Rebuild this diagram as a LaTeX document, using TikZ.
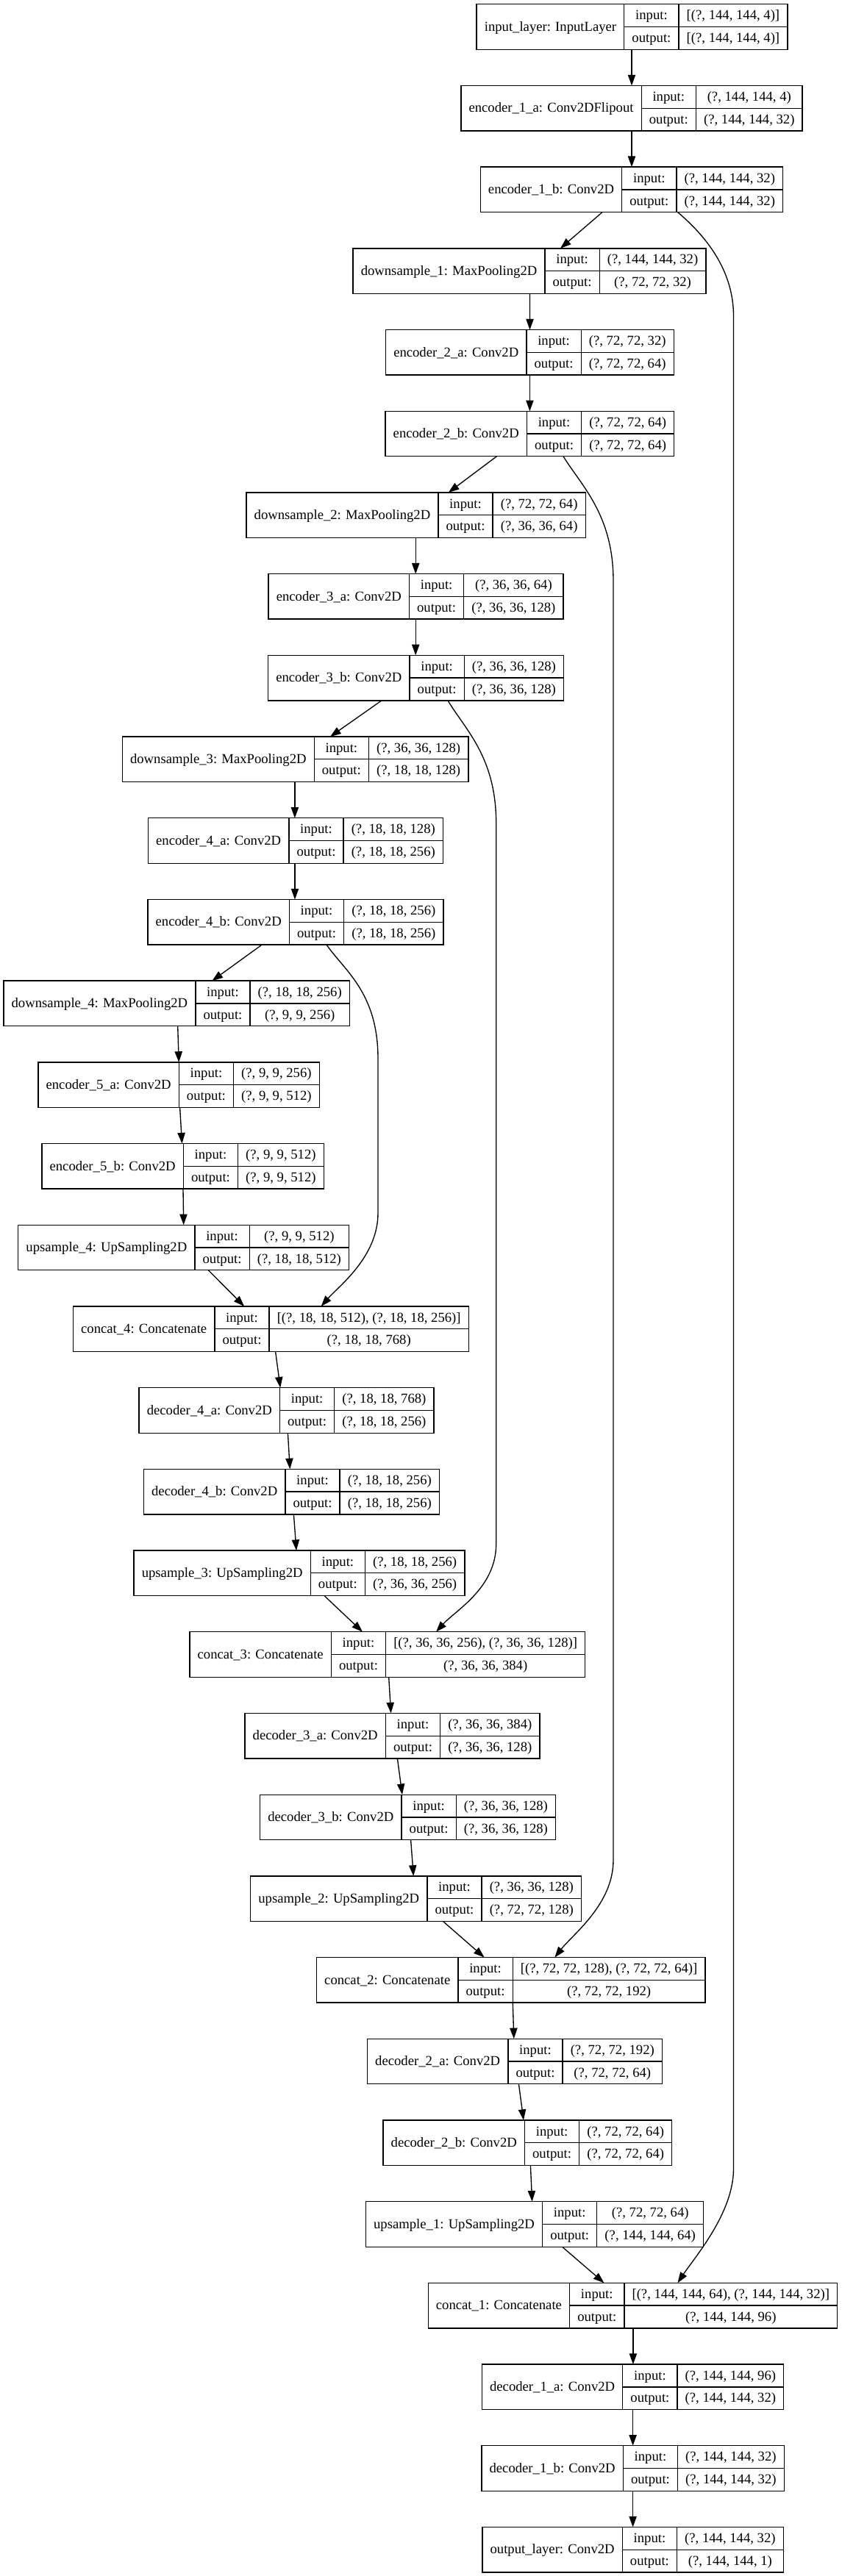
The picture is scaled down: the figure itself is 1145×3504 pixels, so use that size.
\documentclass[tikz,border=0pt]{standalone}
\usepackage{fontspec}
\setmainfont{Liberation Serif}
\usetikzlibrary{arrows.meta,calc}
\newlength\wA \newlength\wB \newlength\wC \newlength\wD \newlength\wT
\newcommand\lfont{\fontsize{14pt}{16.8pt}\selectfont}
\newcommand\measure[2]{\setbox0\hbox{\pgfinterruptpicture\lfont #2\endpgfinterruptpicture}\setlength#1{\wd0}}
\tikzset{
  box/.style={draw, line width=1pt, inner sep=0pt, outer sep=0pt, minimum height=46.125pt},
  rule/.style={line width=1pt},
  txt/.style={inner sep=0pt, font=\lfont, text height=10pt, text depth=1.4pt},
  edge/.style={line width=1pt, -{Triangle[length=11pt,width=7.7pt]}},
}
\newcommand\layer[6]{%
  \measure\wA{#4}\addtolength\wA{16pt}%
  \measure\wB{output:}\addtolength\wB{16pt}%
  \measure\wC{#5}\measure\wD{#6}%
  \ifdim\wD>\wC \setlength\wC{\wD}\fi
  \addtolength\wC{16pt}%
  \setlength\wT{\wA}\addtolength\wT{\wB}\addtolength\wT{\wC}%
  \node[box, minimum width=\wT] (#1) at (#2,{36.5+(#3-1)*110.7}) {};
  \draw[rule] ([xshift=\wA]#1.north west) -- ([xshift=\wA]#1.south west);
  \draw[rule] ([xshift=\wA+\wB]#1.north west) -- ([xshift=\wA+\wB]#1.south west);
  \draw[rule] ([xshift=\wA]#1.west) -- (#1.east);
  \node[txt] (#1-l) at ([xshift=0.5*\wA]#1.west) {#4};
  \node[txt] (#1-i) at ([xshift=\wA+0.5*\wB, yshift=11.53pt]#1.west) {input:};
  \node[txt] (#1-o) at ([xshift=\wA+0.5*\wB, yshift=-11.53pt]#1.west) {output:};
  \node[txt] (#1-vi) at ([xshift=\wA+\wB+0.5*\wC, yshift=11.53pt]#1.west) {#5};
  \node[txt] (#1-vo) at ([xshift=\wA+\wB+0.5*\wC, yshift=-11.53pt]#1.west) {#6};
}
\newcommand\conn[4]{\draw[edge] ($(#1.south)+(#2,0)$) -- ($(#3.north)+(#4,0)$);}
\begin{document}
\begin{tikzpicture}[x=0.75pt, y=-0.75pt]
\fill[white] (0,0) rectangle (1145,3504);
\useasboundingbox (0,0) rectangle (1145,3504);

\layer{inl}{859.5}{1}{input\_layer: InputLayer}{[(?, 144, 144, 4)]}{[(?, 144, 144, 4)]}
\layer{e1a}{859}{2}{encoder\_1\_a: Conv2DFlipout}{(?, 144, 144, 4)}{(?, 144, 144, 32)}
\layer{e1b}{859}{3}{encoder\_1\_b: Conv2D}{(?, 144, 144, 32)}{(?, 144, 144, 32)}
\layer{ds1}{720}{4}{downsample\_1: MaxPooling2D}{(?, 144, 144, 32)}{(?, 72, 72, 32)}
\layer{e2a}{720.4}{5}{encoder\_2\_a: Conv2D}{(?, 72, 72, 32)}{(?, 72, 72, 64)}
\layer{e2b}{720.4}{6}{encoder\_2\_b: Conv2D}{(?, 72, 72, 64)}{(?, 72, 72, 64)}
\layer{ds2}{565.6}{7}{downsample\_2: MaxPooling2D}{(?, 72, 72, 64)}{(?, 36, 36, 64)}
\layer{e3a}{565.6}{8}{encoder\_3\_a: Conv2D}{(?, 36, 36, 64)}{(?, 36, 36, 128)}
\layer{e3b}{565.6}{9}{encoder\_3\_b: Conv2D}{(?, 36, 36, 128)}{(?, 36, 36, 128)}
\layer{ds3}{401.6}{10}{downsample\_3: MaxPooling2D}{(?, 36, 36, 128)}{(?, 18, 18, 128)}
\layer{e4a}{402}{11}{encoder\_4\_a: Conv2D}{(?, 18, 18, 128)}{(?, 18, 18, 256)}
\layer{e4b}{402}{12}{encoder\_4\_b: Conv2D}{(?, 18, 18, 256)}{(?, 18, 18, 256)}
\layer{ds4}{240.2}{13}{downsample\_4: MaxPooling2D}{(?, 18, 18, 256)}{(?, 9, 9, 256)}
\layer{e5a}{243.1}{14}{encoder\_5\_a: Conv2D}{(?, 9, 9, 256)}{(?, 9, 9, 512)}
\layer{e5b}{248.6}{15}{encoder\_5\_b: Conv2D}{(?, 9, 9, 512)}{(?, 9, 9, 512)}
\layer{up4}{249.7}{16}{upsample\_4: UpSampling2D}{(?, 9, 9, 512)}{(?, 18, 18, 512)}
\layer{c4}{368.4}{17}{concat\_4: Concatenate}{[(?, 18, 18, 512), (?, 18, 18, 256)]}{(?, 18, 18, 768)}
\layer{d4a}{389.6}{18}{decoder\_4\_a: Conv2D}{(?, 18, 18, 768)}{(?, 18, 18, 256)}
\layer{d4b}{396.5}{19}{decoder\_4\_b: Conv2D}{(?, 18, 18, 256)}{(?, 18, 18, 256)}
\layer{up3}{407}{20}{upsample\_3: UpSampling2D}{(?, 18, 18, 256)}{(?, 36, 36, 256)}
\layer{c3}{526.9}{21}{concat\_3: Concatenate}{[(?, 36, 36, 256), (?, 36, 36, 128)]}{(?, 36, 36, 384)}
\layer{d3a}{533.5}{22}{decoder\_3\_a: Conv2D}{(?, 36, 36, 384)}{(?, 36, 36, 128)}
\layer{d3b}{554.6}{23}{decoder\_3\_b: Conv2D}{(?, 36, 36, 128)}{(?, 36, 36, 128)}
\layer{up2}{565.6}{24}{upsample\_2: UpSampling2D}{(?, 36, 36, 128)}{(?, 72, 72, 128)}
\layer{c2}{694.8}{25}{concat\_2: Concatenate}{[(?, 72, 72, 128), (?, 72, 72, 64)]}{(?, 72, 72, 192)}
\layer{d2a}{700}{26}{decoder\_2\_a: Conv2D}{(?, 72, 72, 192)}{(?, 72, 72, 64)}
\layer{d2b}{717.4}{27}{decoder\_2\_b: Conv2D}{(?, 72, 72, 64)}{(?, 72, 72, 64)}
\layer{up1}{727}{28}{upsample\_1: UpSampling2D}{(?, 72, 72, 64)}{(?, 144, 144, 64)}
\layer{c1}{860.5}{29}{concat\_1: Concatenate}{[(?, 144, 144, 64), (?, 144, 144, 32)]}{(?, 144, 144, 96)}
\layer{d1a}{860.6}{30}{decoder\_1\_a: Conv2D}{(?, 144, 144, 96)}{(?, 144, 144, 32)}
\layer{d1b}{860.6}{31}{decoder\_1\_b: Conv2D}{(?, 144, 144, 32)}{(?, 144, 144, 32)}
\layer{out}{860.6}{32}{output\_layer: Conv2D}{(?, 144, 144, 32)}{(?, 144, 144, 1)}

% main chain
\conn{inl}{-0.5}{e1a}{0}
\conn{e1a}{0}{e1b}{0}
\conn{e1b}{-40}{ds1}{42}
\conn{ds1}{0.5}{e2a}{0.1}
\conn{e2a}{0}{e2b}{0}
\conn{e2b}{-45}{ds2}{44.2}
\conn{ds2}{-0.4}{e3a}{-0.4}
\conn{e3a}{-0.4}{e3b}{-0.4}
\conn{e3b}{-46.6}{ds3}{47.4}
\conn{ds3}{-0.7}{e4a}{-1.1}
\conn{e4a}{-1}{e4b}{-1}
\conn{e4b}{-45.7}{ds4}{48.2}
\conn{ds4}{1.5}{e5a}{0.1}
\conn{e5a}{1.5}{e5b}{-1.1}
\conn{e5b}{0.4}{up4}{0}
\conn{up4}{33.6}{c4}{-36.2}
\conn{c4}{6.2}{d4a}{-8.4}
\conn{d4a}{1.8}{d4b}{-2.2}
\conn{d4b}{2.9}{up3}{-4}
\conn{up3}{34}{c3}{-33.9}
\conn{c3}{1.8}{d3a}{-1.9}
\conn{d3a}{6.9}{d3b}{-7.6}
\conn{d3b}{4}{up2}{-3.3}
\conn{up2}{36.8}{c2}{-36.2}
\conn{c2}{2.5}{d2a}{-1.2}
\conn{d2a}{5.4}{d2b}{-5.4}
\conn{d2b}{4}{up1}{-3.4}
\conn{up1}{37.5}{c1}{-39}
\conn{c1}{0.4}{d1a}{0.3}
\conn{d1a}{0}{d1b}{0}
\conn{d1b}{0}{out}{0}

% skip connections
\draw[edge] ($(e1b.south)+(62.6,0)$) .. controls (950,313) and (997.5,360) .. (997.5,430)
  -- (997.5,2950) .. controls (997.5,3010) and (945,3070) .. ($(c1.north)+(61,0)$);
\draw[edge] ($(e2b.south)+(45.6,0)$) .. controls (790,660) and (834,700) .. (834,790)
  -- (834,2530) .. controls (834,2590) and (780,2630) .. ($(c2.north)+(59.5,0)$);
\draw[edge] ($(e3b.south)+(43.4,0)$) .. controls (633,993) and (674.7,1030) .. (674.7,1120)
  -- (674.7,2100) .. controls (674.7,2160) and (620,2190) .. ($(c3.north)+(66.1,0)$);
\draw[edge] ($(e4b.south)+(42,0)$) .. controls (468,1320) and (514,1350) .. (514,1440)
  -- (514,1650) .. controls (514,1710) and (460,1750) .. ($(c4.north)+(68.3,0)$);
\end{tikzpicture}
\end{document}
